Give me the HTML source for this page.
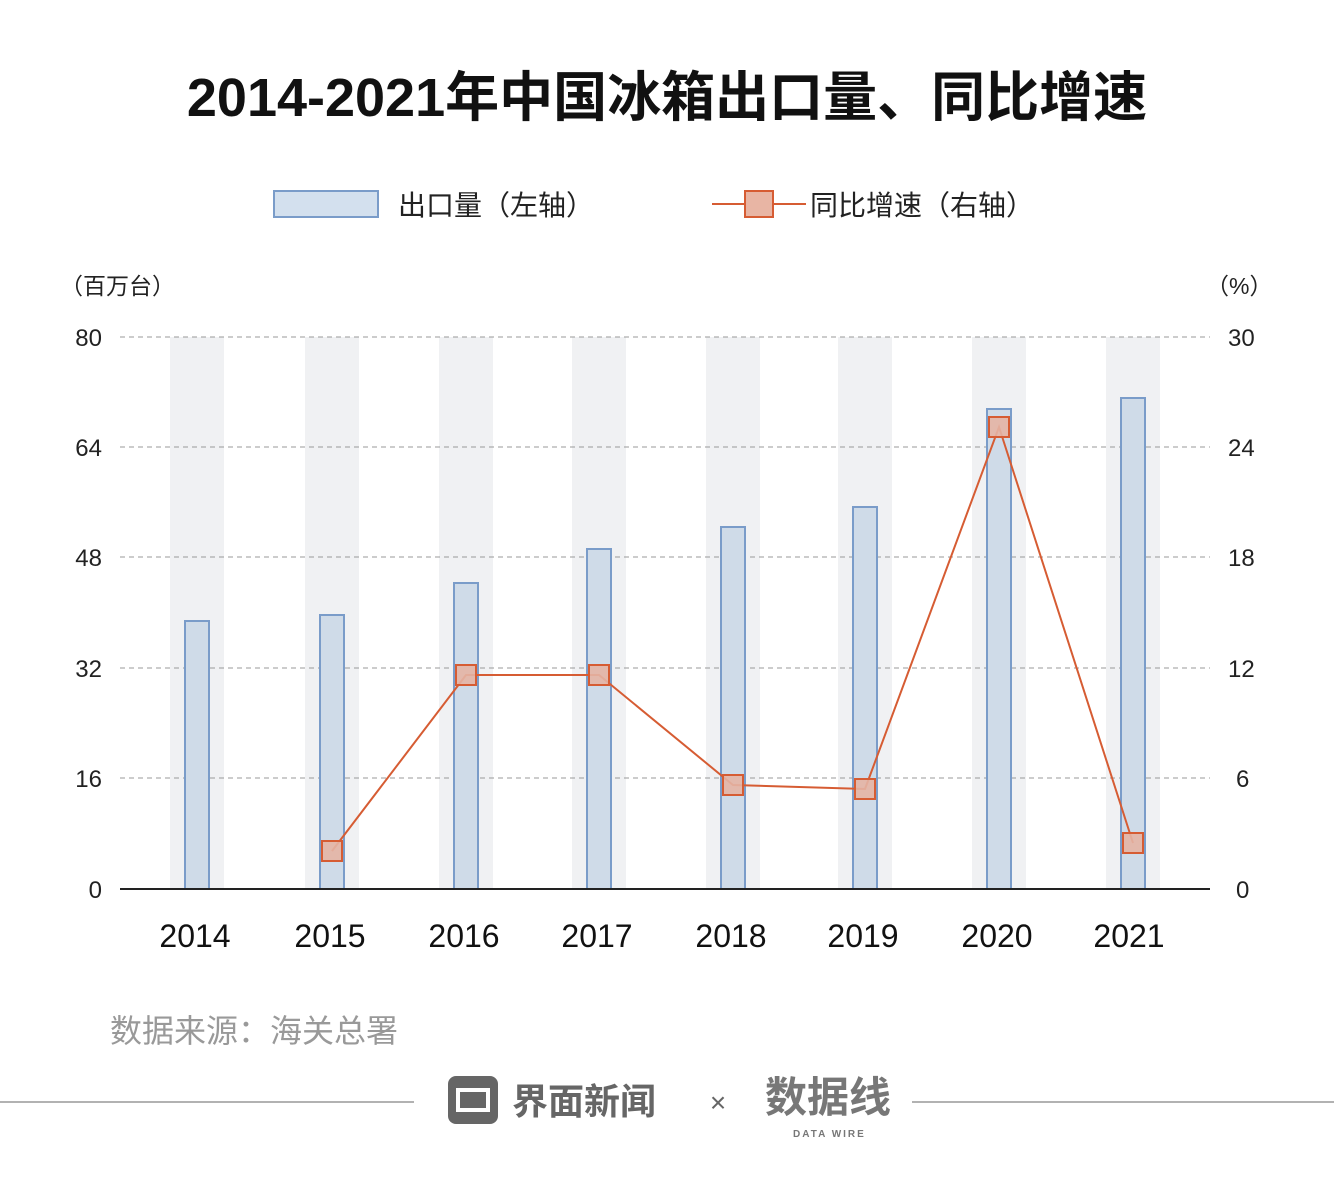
<!DOCTYPE html>
<html><head><meta charset="utf-8"><style>
body{margin:0;background:#fff;}
svg{display:block;font-family:"Liberation Sans","Noto Sans CJK SC",sans-serif;}
</style></head><body>
<svg width="1334" height="1196" viewBox="0 0 1334 1196">
<text x="667" y="116" text-anchor="middle" font-size="54" font-weight="bold" fill="#111">2014-2021年中国冰箱出口量、同比增速</text>
<rect x="274" y="191" width="104" height="26" fill="#d3e0ee" stroke="#7a9cc9" stroke-width="2"/>
<text x="398" y="215" font-size="28" fill="#222">出口量（左轴）</text>
<line x1="712" y1="204" x2="806" y2="204" stroke="#d65c33" stroke-width="2"/>
<rect x="745" y="191" width="28" height="26" fill="#e8b5a4" stroke="#d65c33" stroke-width="2"/>
<text x="810" y="215" font-size="28" fill="#222">同比增速（右轴）</text>
<text x="60" y="294" font-size="23" fill="#222">（百万台）</text>
<text x="1206" y="294" font-size="23" fill="#222">（%）</text>
<g fill="#f0f1f3">
<rect x="170" y="337" width="54" height="552"/><rect x="305" y="337" width="54" height="552"/><rect x="439" y="337" width="54" height="552"/><rect x="572" y="337" width="54" height="552"/><rect x="706" y="337" width="54" height="552"/><rect x="838" y="337" width="54" height="552"/><rect x="972" y="337" width="54" height="552"/><rect x="1106" y="337" width="54" height="552"/>
</g>
<g stroke="#999" stroke-dasharray="5,4" stroke-width="1">
<line x1="120" y1="337" x2="1210" y2="337"/><line x1="120" y1="447" x2="1210" y2="447"/><line x1="120" y1="557" x2="1210" y2="557"/><line x1="120" y1="668" x2="1210" y2="668"/><line x1="120" y1="778" x2="1210" y2="778"/>
</g>
<g font-size="24" fill="#222" text-anchor="end">
<text x="102" y="346">80</text><text x="102" y="456">64</text><text x="102" y="566">48</text><text x="102" y="677">32</text><text x="102" y="787">16</text><text x="102" y="898">0</text>
</g>
<g font-size="24" fill="#222" text-anchor="start">
<text x="1228" y="346">30</text><text x="1228" y="456">24</text><text x="1228" y="566">18</text><text x="1228" y="677">12</text><text x="1236" y="787">6</text><text x="1236" y="898">0</text>
</g>
<g fill="#cfdbe8" stroke="#7a9cc9" stroke-width="2">
<rect x="185" y="621" width="24" height="268"/><rect x="320" y="615" width="24" height="274"/><rect x="454" y="583" width="24" height="306"/><rect x="587" y="549" width="24" height="340"/><rect x="721" y="527" width="24" height="362"/><rect x="853" y="507" width="24" height="382"/><rect x="987" y="409" width="24" height="480"/><rect x="1121" y="398" width="24" height="491"/>
</g>
<line x1="120" y1="889" x2="1210" y2="889" stroke="#222" stroke-width="2"/>
<polyline points="332,851 466,675 599,675 733,785 865,789 999,427 1133,843" fill="none" stroke="#d65c33" stroke-width="2"/>
<g fill="#e4b4a4" fill-opacity="0.9" stroke="#d65c33" stroke-width="2">
<rect x="322" y="841" width="20" height="20"/><rect x="456" y="665" width="20" height="20"/><rect x="589" y="665" width="20" height="20"/><rect x="723" y="775" width="20" height="20"/><rect x="855" y="779" width="20" height="20"/><rect x="989" y="417" width="20" height="20"/><rect x="1123" y="833" width="20" height="20"/>
</g>
<g font-size="32" fill="#111" text-anchor="middle">
<text x="195" y="947">2014</text><text x="330" y="947">2015</text><text x="464" y="947">2016</text><text x="597" y="947">2017</text><text x="731" y="947">2018</text><text x="863" y="947">2019</text><text x="997" y="947">2020</text><text x="1129" y="947">2021</text>
</g>
<text x="110" y="1042" font-size="32" fill="#999">数据来源：海关总署</text>
<line x1="0" y1="1102" x2="414" y2="1102" stroke="#999" stroke-width="1.5"/>
<line x1="912" y1="1102" x2="1334" y2="1102" stroke="#999" stroke-width="1.5"/>
<rect x="448" y="1076" width="50" height="48" rx="8" fill="#666"/>
<rect x="458" y="1090" width="30" height="20" fill="none" stroke="#fff" stroke-width="4"/>
<text x="512" y="1114" font-size="36" font-weight="bold" fill="#666">界面新闻</text>
<text x="718" y="1112" font-size="28" fill="#666" text-anchor="middle">×</text>
<text x="765" y="1112" font-size="42" font-weight="bold" fill="#777">数据线</text>
<text x="793" y="1137" font-size="10" font-weight="bold" fill="#777" letter-spacing="2">DATA WIRE</text>
</svg>
</body></html>
